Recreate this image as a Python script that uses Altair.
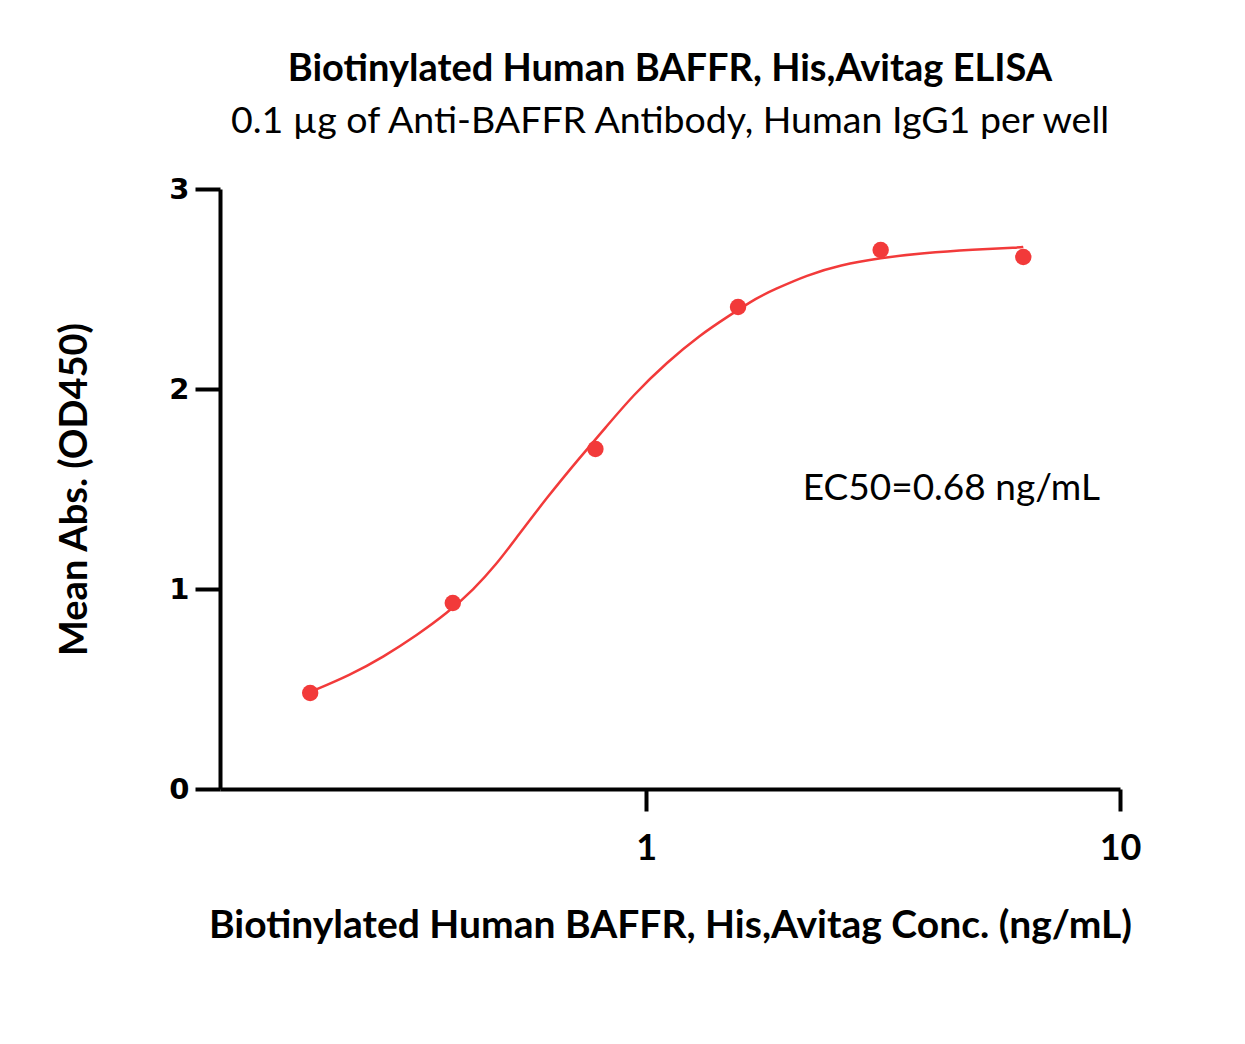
import altair as alt
import pandas as pd

# Measured points
conc = [0.1953125, 0.390625, 0.78125, 1.5625, 3.125, 6.25]
absorb = [0.48, 0.93, 1.70, 2.41, 2.695, 2.66]

# Fitted curve
curve_x = [0.1953, 0.2374, 0.2787, 0.3286, 0.3803, 0.4315, 0.4850, 0.5240, 0.6182,
           0.7257, 0.8194, 0.9388, 1.1073, 1.2999, 1.4817, 1.7231, 1.8535, 2.1863,
           2.5668, 3.1172, 3.8408, 4.8974, 6.152, 6.25]
curve_y = [0.485, 0.57, 0.66, 0.77, 0.88, 0.995, 1.13, 1.235, 1.46,
           1.66, 1.805, 1.97, 2.135, 2.27, 2.36, 2.46, 2.495, 2.57,
           2.62, 2.655, 2.68, 2.6975, 2.7075, 2.71]

x_ticks = [1, 10]
y_ticks = [0, 1, 2, 3]

RED = "#F23A3A"
CAL = "Lato"

pts = pd.DataFrame({"x": conc, "y": absorb})
crv = pd.DataFrame({"x": curve_x, "y": curve_y})
ann = pd.DataFrame({"x": [2.14], "y": [1.5], "t": ["EC50=0.68 ng/mL"]})

xs = alt.Scale(type="log", domain=[0.126, 10], nice=False)
ys = alt.Scale(domain=[0, 3], nice=False)

xaxis = alt.Axis(values=x_ticks, format="~g", title="Biotinylated Human BAFFR, His,Avitag Conc. (ng/mL)",
                 grid=False, domainColor="black", domainWidth=4, tickColor="black", tickWidth=4,
                 tickSize=22, labelFont=CAL, labelFontWeight="bold", labelFontSize=36,
                 labelColor="black", labelPadding=20, titleFont=CAL, titleFontWeight="bold",
                 titleFontSize=39, titleColor="black", titlePadding=40, labelFlush=False)
yaxis = alt.Axis(values=y_ticks, format="d", title="Mean Abs. (OD450)",
                 grid=False, domainColor="black", domainWidth=4, tickColor="black", tickWidth=4,
                 tickSize=25, labelFont="DejaVu Sans", labelFontWeight="bold", labelFontSize=29,
                 labelColor="black", labelPadding=6, titleFont=CAL, titleFontWeight="bold",
                 titleFontSize=38, titleColor="black", titlePadding=74)

line = alt.Chart(crv).mark_line(color=RED, strokeWidth=2.5, interpolate="basis").encode(
    x=alt.X("x:Q", scale=xs, axis=xaxis),
    y=alt.Y("y:Q", scale=ys, axis=yaxis),
)
dots = alt.Chart(pts).mark_circle(color=RED, opacity=1, size=270).encode(
    x=alt.X("x:Q", scale=xs),
    y=alt.Y("y:Q", scale=ys),
)
text = alt.Chart(ann).mark_text(font=CAL, fontSize=37, align="left", baseline="middle", color="black").encode(
    x=alt.X("x:Q", scale=xs),
    y=alt.Y("y:Q", scale=ys),
    text="t:N",
)

chart = alt.layer(line, dots, text).properties(
    width=900, height=600,
    background="white",
    autosize=alt.AutoSizeParams(type="none"),
    padding={"left": 220, "top": 189, "right": 125, "bottom": 255},
    title=alt.TitleParams(
        text="Biotinylated Human BAFFR, His,Avitag ELISA",
        subtitle="0.1 µg of Anti-BAFFR Antibody, Human IgG1 per well",
        font=CAL, fontSize=38, fontWeight="bold", color="black",
        subtitleFont=CAL, subtitleFontSize=37.5, subtitleColor="black",
        subtitlePadding=14, anchor="middle", offset=35,
    ),
).configure_view(strokeWidth=0)

chart.save("out.html", embed_options={"renderer": "svg", "actions": False})
